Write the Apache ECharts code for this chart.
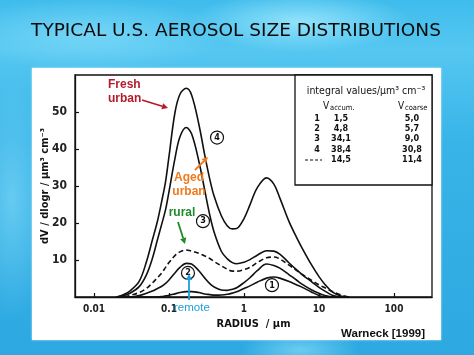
<!DOCTYPE html>
<html><head><meta charset="utf-8">
<script src="https://cdn.jsdelivr.net/npm/echarts@6/dist/echarts.min.js"></script>
<style>
html,body{margin:0;padding:0;width:474px;height:355px;overflow:hidden;}
body{background:
 radial-gradient(ellipse 110px 30px at 300px 22px, rgba(170,238,255,0.75), rgba(170,238,255,0) 100%),
 radial-gradient(ellipse 140px 36px at 90px 34px, rgba(150,228,252,0.55), rgba(150,228,252,0) 100%),
 radial-gradient(ellipse 40px 120px at 12px 200px, rgba(150,228,252,0.5), rgba(150,228,252,0) 100%),
 radial-gradient(ellipse 60px 20px at 300px 350px, rgba(150,228,252,0.6), rgba(150,228,252,0) 100%),
 linear-gradient(180deg,#3fbcec 0%,#55c7f1 14%,#38b4e8 40%,#2da8e1 100%);}
#panel{position:absolute;left:32px;top:68px;width:409px;height:272px;background:#fff;box-shadow:0 0 2px rgba(220,245,255,0.9);}
#chart{position:absolute;left:0;top:0;width:474px;height:355px;}
</style></head><body>
<div id="panel"></div><div id="chart"></div>
<script>
// radius grid (micrometres) shared by all curves
const radius = [0.02,0.025,0.03,0.04,0.05,0.06,0.07,0.08,0.09,0.1,0.12,0.14,0.17,0.2,0.25,0.3,0.35,0.4,0.5,0.6,0.7,0.8,1.0,1.2,1.5,2,2.5,3,4,5,6,8,10,12,15,20,25];
// dV/dlogr values, um^3 cm^-3
const curve4 = [0,0.7,1.6,4.2,9.5,15.4,20.4,25.9,31.2,38,49.8,54.8,56.4,54.6,46.7,38.3,31.8,27.2,21.9,19.2,18.4,18.5,21.2,24.9,29.5,32.2,30.5,26.8,20.3,16.2,13.1,8.6,5.5,3.4,1.4,0.2,0];
const curve3 = [0,0.4,1.0,2.8,6.0,10.4,15.4,19.7,23.6,28.5,37.4,43.3,45.8,44.1,36.7,28.8,22.1,17.5,12.3,10.3,9.3,9.0,9.4,10.1,11.3,12.5,12.4,11.6,9.2,7.4,6.0,4.1,2.6,1.6,0.5,0,0];
const curveDashed = [0,0,0.4,1.2,2.3,3.8,5.2,6.5,8.0,9.3,11.2,12.2,12.7,12.4,11.8,11.1,10.4,9.6,8.4,7.5,7.0,7.0,7.4,8.0,9.3,10.6,10.8,10.3,8.6,7.2,6.1,4.5,3.3,2.5,1.5,0.5,0];
const curve2 = [0,0,0,0.4,1.0,1.6,2.3,2.9,3.7,4.6,6.5,8.0,9.1,8.9,7.1,5.1,3.6,2.7,1.9,1.8,2.1,2.5,3.9,5.2,7.1,8.9,8.5,7.8,6.0,4.6,3.4,1.9,1.0,0.4,0,0,0];
const curve1 = [0,0,0,0,0,0,0,0.1,0.3,0.45,0.85,1.2,1.45,1.45,1.2,0.8,0.65,0.5,0.55,0.75,1.05,1.4,2.3,3.0,4.0,5.1,5.4,5.1,4.2,3.3,2.6,1.3,0.4,0,0,0,0];
// axis ticks
const xTickRadius = [0.01,0.1,1,10,100];
const xTickLabels = ['0.01','0.1','1','10','100'];
const yTicks = [10,20,30,40,50];
// circled curve labels: [label, radius, value]
const curveTags = [['4',0.437,43.1],['3',0.284,20.5],['2',0.179,6.5],['1',2.36,3.2]];
// table of integral values
const tableRowLabels = ['1','2','3','4','----'];
const vAccum = [1.5,4.8,34.1,38.4,14.5];
const vCoarse = [5.0,5.7,9.0,30.8,11.4];

const NARROW = '"Liberation Sans Narrow","DejaVu Sans Condensed",sans-serif';
const ARIAL = '"Liberation Sans",Arial,sans-serif';
const chart = echarts.init(document.getElementById('chart'), null, {renderer:'canvas'});
const toXY = vals => radius.map((r,i)=>[Math.log10(r), vals[i]]);

function lineSeries(name, vals, dashed){
  return {name, type:'line', data:toXY(vals), smooth:0.35, showSymbol:false, symbol:'none',
    lineStyle:{color:'#111', width:1.6, type: dashed ? [5,3] : 'solid'}, z:3, silent:true};
}
function arrow(x1,y1,x2,y2,color){
  const a=Math.atan2(y2-y1,x2-x1), L=6, W=3.2;
  const bx=x2-L*Math.cos(a), by=y2-L*Math.sin(a);
  return [
    {type:'line', shape:{x1,y1,x2:bx,y2:by}, style:{stroke:color,lineWidth:1.8}, z:10},
    {type:'polygon', shape:{points:[[x2,y2],[bx+W*Math.sin(a),by-W*Math.cos(a)],[bx-W*Math.sin(a),by+W*Math.cos(a)]]}, style:{fill:color}, z:10}
  ];
}
function txt(text,x,y,font,fill,align){
  return {type:'text', x, y, z:10, style:{text, font, fill, textAlign:align||'left', textVerticalAlign:'middle'}};
}
const fmt = v => v.toFixed(1).replace('.',',');

const seriesList = [
  lineSeries('4', curve4), lineSeries('3', curve3), lineSeries('dashed', curveDashed, true),
  lineSeries('2', curve2), lineSeries('1', curve1)
];
seriesList[0].markPoint = {
  symbol:'circle', symbolSize:13, silent:true,
  itemStyle:{color:'#fff', borderColor:'#111', borderWidth:1.2},
  label:{show:true, position:'inside', color:'#111', fontSize:9, fontWeight:'bold', fontFamily:NARROW, formatter:p=>p.name},
  data: curveTags.map(t=>({name:t[0], coord:[Math.log10(t[1]), t[2]]}))
};

const graphics = [
  {type:'text', x:236, y:31, z:10, style:{text:'TYPICAL U.S. AEROSOL SIZE DISTRIBUTIONS', font:'18.5px "DejaVu Sans",sans-serif', fill:'#0b0b0b', textAlign:'center', textVerticalAlign:'middle', shadowColor:'rgba(255,255,255,0.85)', shadowOffsetX:1, shadowOffsetY:1, shadowBlur:1}},
  // table box
  {type:'rect', shape:{x:295, y:75, width:137, height:110}, style:{fill:'#fff', stroke:'#111', lineWidth:1.3}, z:5},
  txt('integral values/μm³ cm⁻³', 366, 91, '10.5px '+NARROW, '#111', 'center'),
  txt('V', 323, 106, '10px '+NARROW, '#111'),
  txt('accum.', 330, 108.5, '7.5px '+NARROW, '#111'),
  txt('V', 398, 106, '10px '+NARROW, '#111'),
  txt('coarse', 405, 108.5, '7.5px '+NARROW, '#111'),
  txt('Warneck [1999]', 425, 334, 'bold 11.5px '+ARIAL, '#111', 'right'),
  // annotations
  txt('Fresh', 108, 85, 'bold 12px '+ARIAL, '#b51b2c'),
  txt('urban', 108, 99, 'bold 12px '+ARIAL, '#b51b2c'),
  ...arrow(142,100,168,108,'#b51b2c'),
  txt('Aged', 189, 178, 'bold 12px '+ARIAL, '#f07a1c', 'center'),
  txt('urban', 189, 192, 'bold 12px '+ARIAL, '#f07a1c', 'center'),
  ...arrow(195,170,208,157,'#f07a1c'),
  txt('rural', 182, 213, 'bold 12px '+ARIAL, '#1f8a2b', 'center'),
  ...arrow(178,222,185,244,'#1f8a2b'),
  txt('remote', 174, 308, '11.5px '+ARIAL, '#1d9fd9'),
  ...arrow(189,300,189,274,'#1d9fd9')
];
const rowY = [119,129,139,150,160];
tableRowLabels.forEach((lab,i)=>{
  if (lab === '----') {
    graphics.push({type:'line', shape:{x1:305,y1:rowY[i],x2:322,y2:rowY[i]}, style:{stroke:'#111',lineWidth:1.2,lineDash:[3,2]}, z:10});
  } else {
    graphics.push(txt(lab, 317, rowY[i], 'bold 9px '+NARROW, '#111', 'center'));
  }
  graphics.push(txt(fmt(vAccum[i]), 341, rowY[i], 'bold 9px '+NARROW, '#111', 'center'));
  graphics.push(txt(fmt(vCoarse[i]), 412, rowY[i], 'bold 9px '+NARROW, '#111', 'center'));
});

chart.setOption({
  backgroundColor:'transparent',
  animation:false,
  grid:{left:75, top:75, right:42, bottom:58, show:true, borderColor:'#111', borderWidth:1.3, backgroundColor:'transparent'},
  xAxis:{type:'value', min:-2.2533, max:2.5067,
    name:'RADIUS  / μm', nameLocation:'middle', nameGap:22, nameMoveOverlap:false,
    nameTextStyle:{fontFamily:NARROW, fontWeight:'bold', fontSize:11, color:'#111'},
    axisLine:{show:true, onZero:false, lineStyle:{color:'#111', width:1.3}},
    axisTick:{show:true, inside:true, length:4, lineStyle:{color:'#111', width:1.2}, customValues:xTickRadius.map(Math.log10)},
    axisLabel:{customValues:xTickRadius.map(Math.log10), margin:7, fontFamily:NARROW, fontWeight:'bold', fontSize:10, color:'#222',
      formatter:v=>{const i=xTickRadius.findIndex(r=>Math.abs(Math.log10(r)-v)<1e-6); return i>=0?xTickLabels[i]:'';}},
    splitLine:{show:false}},
  yAxis:{type:'value', min:0, max:60,
    name:'dV / dlogr / μm³ cm⁻³', nameLocation:'middle', nameGap:24, nameMoveOverlap:false,
    nameTextStyle:{fontFamily:NARROW, fontWeight:'bold', fontSize:11, color:'#111'},
    axisLine:{show:true, onZero:false, lineStyle:{color:'#111', width:1.3}},
    axisTick:{show:true, inside:true, length:4, lineStyle:{color:'#111', width:1.2}, customValues:yTicks},
    axisLabel:{customValues:yTicks, margin:8, fontFamily:NARROW, fontWeight:'bold', fontSize:12, color:'#222'},
    splitLine:{show:false}},
  series: seriesList,
  graphic: graphics
});
</script>
</body></html>
